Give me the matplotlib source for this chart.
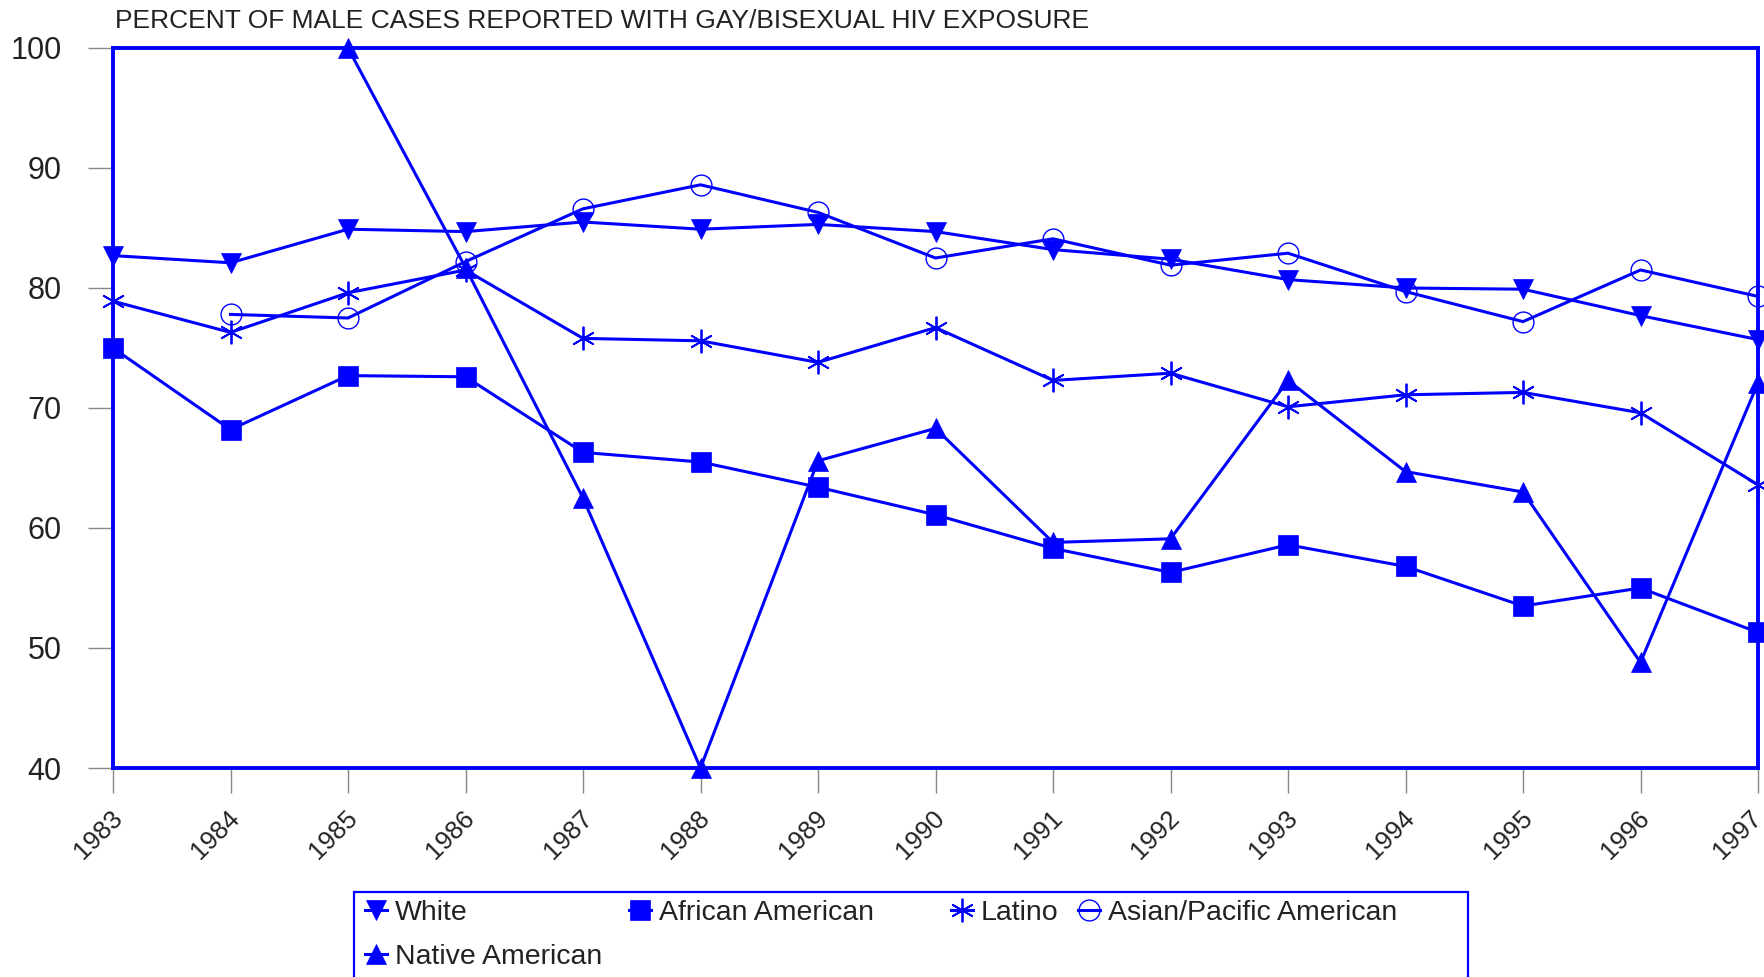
import numpy as np
import matplotlib
matplotlib.use("Agg")
import matplotlib.pyplot as plt
from matplotlib.patches import Rectangle
import matplotlib.transforms as mtransforms

plt.rcParams['font.family'] = ['Liberation Sans', 'DejaVu Sans']

years = list(range(1983, 1998))
white = [82.7, 82.1, 84.9, 84.7, 85.5, 84.9, 85.3, 84.7, 83.2, 82.4, 80.7, 80.0, 79.9, 77.7, 75.7]
african_american = [75.0, 68.2, 72.7, 72.6, 66.3, 65.5, 63.4, 61.1, 58.3, 56.3, 58.6, 56.8, 53.5, 55.0, 51.3]
latino = [78.9, 76.3, 79.6, 81.5, 75.8, 75.6, 73.8, 76.7, 72.3, 72.9, 70.1, 71.1, 71.3, 69.6, 63.6]
asian_pacific = [np.nan, 77.8, 77.5, 82.2, 86.6, 88.6, 86.3, 82.5, 84.1, 81.9, 82.9, 79.7, 77.2, 81.5, 79.3]
native_american = [np.nan, np.nan, 100.0, 81.7, 62.5, 40.0, 65.6, 68.3, 58.8, 59.1, 72.3, 64.7, 63.0, 48.8, 72.1]
series_labels = ["White", "African American", "Latino", "Asian/Pacific American", "Native American"]
title = "PERCENT OF MALE CASES REPORTED WITH GAY/BISEXUAL HIV EXPOSURE"
yticks = [40, 50, 60, 70, 80, 90, 100]

BLUE = '#0000FF'
TXT = '#222222'
W, H = 1764, 977
fig = plt.figure(figsize=(W / 100, H / 100), dpi=100)
ax = fig.add_axes([113 / W, 1 - 768 / H, (1758 - 113) / W, (768 - 48) / H])

styles = [
    dict(marker='v', markersize=15, mfc=BLUE, mec=BLUE, mew=0.5),
    dict(marker='s', markersize=14, mfc=BLUE, mec=BLUE, mew=0.5),
    dict(marker=(6, 2, 0), markersize=17, mfc=BLUE, mec=BLUE, mew=1.3),
    dict(marker='o', markersize=15, mfc='none', mec=BLUE, mew=1.0),
    dict(marker='^', markersize=15, mfc=BLUE, mec=BLUE, mew=0.5),
]
data = [white, african_american, latino, asian_pacific, native_american]
handles = []
for vals, st, lab in zip(data, styles, series_labels):
    ln, = ax.plot(years, vals, color=BLUE, lw=2.2, clip_on=False, label=lab, **st)
    handles.append(ln)

ax.set_xlim(1983, 1997)
ax.set_ylim(40, 100)
ax.set_xticks(years)
ax.set_xticklabels([str(y) for y in years], rotation=45, ha='right', rotation_mode='anchor',
                   fontsize=18.5, color=TXT)
ax.set_yticks(yticks)
ax.set_yticklabels([str(v) for v in yticks], fontsize=22, color=TXT)
ax.tick_params(axis='both', direction='out', length=18, width=1.0, color='#888888')
ax.tick_params(axis='y', pad=19)
ax.tick_params(axis='x', pad=9.5)
shift = mtransforms.ScaledTranslation(-3 / 100, 0, fig.dpi_scale_trans)
labels = ax.get_xticklabels()
for i, lbl in enumerate(labels):
    if i == len(labels) - 1:
        lbl.set_transform(lbl.get_transform() + mtransforms.ScaledTranslation(-9 / 100, 0, fig.dpi_scale_trans))
    else:
        lbl.set_transform(lbl.get_transform() + shift)
for s in ax.spines.values():
    s.set_color(BLUE)
    s.set_linewidth(2.8)

fig.text(115 / W, 1 - 21 / H, title, fontsize=19, color=TXT, ha='left', va='center')

# legend frame
fig.patches.append(Rectangle((354 / W, -0.1), (1468 - 354) / W, 0.1 + (977 - 892) / H,
                             transform=fig.transFigure, fill=False, edgecolor=BLUE, lw=1.6))

# legend entries positioned individually
entry_pos = [(376, 913), (640, 913), (962, 913), (1089, 913), (376, 957)]
for h, lab, (cx, cy) in zip(handles, series_labels, entry_pos):
    hl = 0.8
    fs = 20.5
    left = cx - hl * fs * 100 / 72 / 2
    leg = fig.legend([h], [lab], loc='center left', bbox_to_anchor=(left / W, 1 - cy / H),
                     frameon=False, fontsize=fs, handlelength=hl, handletextpad=0.25,
                     borderpad=0, borderaxespad=0, numpoints=1, markerscale=1.0)
    for t in leg.get_texts():
        t.set_color(TXT)

fig.savefig('out.png', dpi=100)
